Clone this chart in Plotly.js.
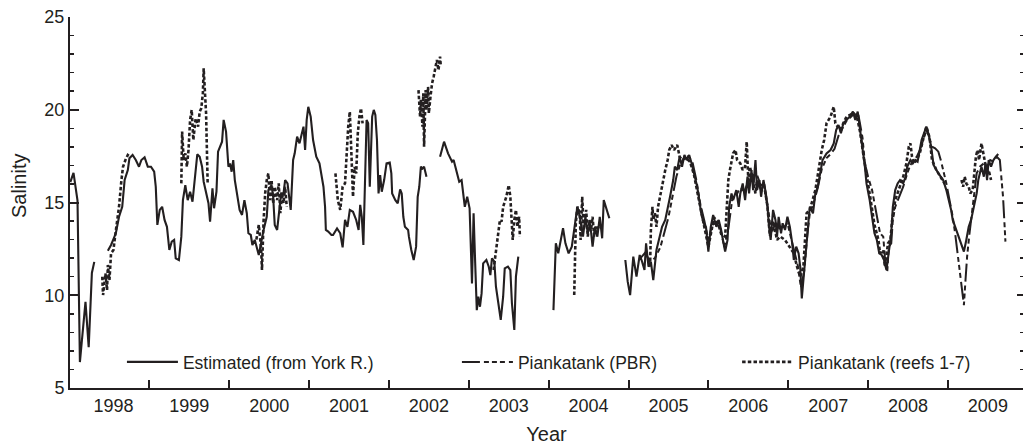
<!DOCTYPE html>
<html>
<head>
<meta charset="utf-8">
<script src="https://cdn.plot.ly/plotly-3.0.1.min.js"></script>
<style>
html,body{margin:0;padding:0;background:#fff;}
#chart{width:1023px;height:446px;}
</style>
</head>
<body>
<div id="chart"></div>
<script>
// ---- Data (decimal year, salinity); null = gap in record ----
var estYears = [
1998.01,1998.05,1998.10,1998.13,1998.20,1998.24,1998.28,1998.31,1998.40,
1998.48,1998.52,1998.58,1998.62,1998.66,1998.69,1998.73,1998.75,1998.79,1998.83,1998.87,1998.90,1998.94,1998.98,
1999.02,1999.06,1999.08,1999.10,1999.13,1999.16,1999.19,1999.22,1999.25,1999.28,1999.31,1999.33,1999.37,1999.40,
1999.42,1999.45,1999.48,1999.51,1999.54,1999.58,1999.60,1999.63,1999.66,1999.68,1999.74,1999.76,1999.79,1999.81,
1999.84,1999.86,1999.91,1999.93,1999.96,1999.99,2000.01,2000.03,2000.05,2000.07,2000.10,2000.13,2000.16,2000.19,
2000.22,2000.24,2000.27,2000.29,2000.32,2000.37,2000.43,2000.47,2000.49,2000.53,2000.55,2000.57,2000.60,2000.63,
2000.65,2000.68,2000.70,2000.73,2000.75,2000.77,2000.80,2000.82,2000.85,2000.88,2000.91,2000.93,2000.95,2000.97,
2000.99,2001.02,2001.05,2001.09,2001.13,2001.16,2001.18,2001.20,2001.21,2001.24,2001.28,2001.30,2001.35,2001.39,
2001.42,2001.45,2001.48,2001.51,2001.55,2001.59,2001.62,2001.64,2001.66,2001.68,2001.70,2001.72,2001.74,2001.76,
2001.79,2001.81,2001.83,2001.85,2001.87,2001.89,2001.91,2001.94,2001.97,2002.01,2002.03,2002.04,2002.08,2002.11,
2002.14,2002.16,2002.18,2002.20,2002.24,2002.25,2002.28,2002.31,2002.34,2002.36,2002.38,2002.40,2002.42,2002.44,
2002.47,2002.55,
2002.64,2002.69,2002.74,2002.79,2002.81,2002.85,2002.88,2002.91,2002.95,2002.98,2003.01,2003.04,2003.06,2003.08,
2003.10,2003.12,2003.14,2003.16,2003.18,2003.22,2003.25,2003.27,2003.29,2003.32,2003.34,2003.37,2003.40,2003.43,
2003.45,2003.49,2003.52,2003.54,2003.57,2003.59,2003.62,2003.85,
2004.06,2004.09,2004.12,2004.18,2004.21,2004.25,2004.29,2004.33,2004.36,2004.39,2004.43,2004.46,2004.49,2004.52,
2004.55,2004.58,2004.61,2004.64,2004.67,2004.69,2004.73,2004.76,2004.86,
2004.96,2004.99,2005.02,2005.06,2005.10,2005.14,2005.17,2005.20,2005.22,2005.25,2005.28,2005.31,2005.35,2005.39,
2005.42,2005.46,2005.49,2005.52,2005.56,2005.58,2005.61,2005.64,2005.67,2005.70,2005.73,2005.76,2005.79,2005.82,
2005.86,2005.88,2005.91,2005.94,2005.97,2006.00,2006.03,2006.06,2006.10,2006.13,2006.16,2006.19,2006.21,2006.24,
2006.26,2006.29,2006.31,2006.35,2006.38,2006.40,2006.43,2006.46,2006.49,2006.51,2006.54,2006.56,2006.59,2006.61,
2006.64,2006.66,2006.69,2006.72,2006.74,2006.76,2006.78,2006.81,2006.84,2006.86,2006.88,2006.91,2006.93,2006.96,
2006.99,2007.02,2007.05,2007.07,2007.10,2007.13,2007.15,2007.17,2007.19,2007.22,2007.25,2007.27,2007.31,2007.34,
2007.37,2007.40,2007.43,2007.48,2007.53,2007.57,2007.60,2007.63,2007.66,2007.69,2007.73,2007.77,2007.81,2007.84,
2007.87,2007.90,2007.93,2007.96,2007.98,2008.02,2008.05,2008.08,2008.11,2008.14,2008.17,2008.20,2008.23,2008.26,
2008.29,2008.31,2008.34,2008.37,2008.40,2008.44,2008.47,2008.49,2008.53,2008.56,2008.59,2008.62,2008.64,2008.67,
2008.70,2008.73,2008.76,2008.79,2008.82,2008.85,2008.88,2008.91,2008.94,2008.98,2009.01,2009.04,2009.06,2009.09,
2009.12,2009.15,2009.18,2009.20,2009.23,2009.26,2009.29,2009.31,2009.34,2009.36,2009.38,2009.40,2009.42,2009.45,
2009.47,2009.49,2009.51,2009.54,2009.57,2009.60,2009.63
];
var estSalinity = [
16.1,16.6,15.1,6.4,9.65,7.2,11.2,11.8,null,
12.4,12.71,13.34,14.23,14.77,16.21,16.75,17.38,17.56,17.29,16.93,17.29,17.44,16.93,
16.93,16.66,15.85,13.79,14.6,14.77,14.06,13.69,12.44,12.89,12.98,11.99,11.9,13.16,
15.13,15.93,15.13,15.58,15.04,16.75,17.6,17.47,16.93,16.12,14.96,13.97,15.76,14.69,
15.58,17.74,18.28,19.45,18.82,16.93,17.11,16.66,17.29,16.21,15.49,14.6,14.33,15.13,
14.42,13.34,13.25,12.71,12.98,12.17,13.52,14.23,15.67,15.94,15.31,13.79,13.52,14.96,
15.49,15.49,16.21,16.03,15.31,14.6,17.29,17.65,18.55,18.19,18.73,19.09,17.83,19.45,
20.16,19.63,18.37,17.47,17.11,16.39,15.85,14.77,13.52,13.43,13.25,13.25,13.6,13.34,
12.58,14.06,13.69,14.6,14.5,14.06,13.52,14.87,14.23,12.71,15.49,19.45,19.27,15.85,
19.63,19.99,19.72,18.37,15.49,16.48,15.58,16.21,17.11,17.15,16.57,15.49,15.13,14.96,
15.71,15.49,14.23,13.69,13.52,13.16,12.44,11.9,12.62,15.31,15.85,16.93,16.84,16.93,
16.39,null,
17.47,18.28,17.65,17.2,17.29,16.57,16.12,16.21,14.77,15.31,14.69,10.64,14.42,11.72,
9.2,9.92,9.38,10.1,11.72,11.9,11.54,11.09,11.99,11.81,10.46,9.57,8.67,9.92,
11.45,11.54,11.36,9.57,8.13,11.0,12.08,null,
9.2,12.8,12.26,13.61,12.8,12.26,12.62,13.88,14.77,14.23,13.16,14.23,13.34,13.88,
12.62,13.69,13.16,14.23,13.07,15.13,14.6,14.15,null,
11.9,10.73,10.01,12.08,11.0,12.17,11.81,11.36,12.8,11.54,11.81,10.82,12.44,13.16,
13.69,14.06,14.6,15.31,16.21,16.93,16.75,17.47,16.93,17.56,17.29,17.56,17.11,16.57,
15.85,15.31,14.42,13.88,13.69,12.35,13.69,14.33,13.69,14.06,13.52,12.8,12.35,12.98,
14.77,15.49,15.13,15.67,14.77,15.49,16.03,15.13,16.39,15.49,16.75,15.67,17.29,15.67,
16.21,15.31,16.21,15.49,14.77,13.69,12.98,14.6,14.06,13.16,14.23,13.34,13.88,13.52,
14.23,13.69,12.8,11.9,12.62,12.26,11.54,9.83,10.82,12.44,13.88,14.77,14.42,15.49,
15.85,16.57,17.29,17.65,17.83,18.19,18.91,19.18,18.73,19.27,19.45,19.63,19.9,19.45,
19.9,18.91,18.01,16.93,16.03,15.13,14.23,13.34,12.98,12.26,12.17,11.9,11.36,12.26,
13.34,14.77,15.67,16.03,16.21,16.03,16.39,16.93,17.29,17.11,17.29,17.2,17.65,18.37,
18.73,19.09,18.64,18.01,17.02,16.75,16.57,16.39,16.21,15.67,15.13,14.6,14.06,13.69,
13.34,12.98,12.62,12.35,12.98,13.69,14.06,14.42,14.96,15.49,16.21,16.57,16.93,16.39,
17.11,16.21,17.29,16.93,17.29,17.47,17.61
];

var pbrYears = [
2005.15,2005.21,2005.27,2005.33,2005.40,2005.46,2005.50,2005.55,2005.60,2005.65,2005.70,2005.75,2005.80,2005.85,
2005.90,2005.95,2006.00,2006.05,2006.10,2006.15,2006.20,2006.25,2006.30,2006.35,2006.40,2006.45,2006.50,2006.55,
2006.60,2006.65,2006.70,2006.75,2006.79,2006.84,2006.89,2006.94,2006.99,2007.04,2007.09,2007.12,2007.16,2007.20,
2007.24,2007.27,2007.32,2007.37,2007.42,2007.48,2007.53,2007.58,2007.63,2007.68,2007.73,2007.78,2007.83,2007.88,
2007.93,2007.96,2008.00,2008.05,2008.09,2008.12,2008.15,2008.19,2008.21,2008.24,2008.26,2008.29,2008.31,2008.34,
2008.37,2008.40,2008.44,2008.49,2008.53,2008.57,2008.61,2008.65,2008.69,2008.73,2008.76,2008.80,2008.84,2008.88,
2008.91,2008.94,2008.98,2009.02,2009.06,2009.09,2009.12,2009.15,2009.17,2009.20,2009.22,2009.24,2009.27,2009.30,
2009.33,2009.36,2009.40,2009.45,2009.49,2009.53,2009.57,2009.61,2009.65,2009.69,2009.72
];
var pbrSalinity = [
12.0,12.3,11.8,12.0,12.6,13.5,14.2,15.3,16.4,17.1,17.4,17.5,17.2,16.2,
14.9,14.0,13.0,13.8,13.9,13.6,12.6,13.6,15.2,15.4,15.8,15.6,16.1,16.4,
16.6,16.0,15.8,14.6,13.3,13.9,13.6,13.6,13.9,13.0,12.2,11.6,10.4,11.3,
13.3,14.4,15.0,15.8,16.8,17.4,17.6,17.9,18.6,19.0,19.4,19.6,19.8,19.7,
18.5,17.11,16.39,15.67,14.77,14.06,13.34,13.16,12.08,11.27,12.62,12.8,14.06,14.77,
15.13,15.4,15.85,16.57,17.02,17.29,17.47,17.83,18.37,18.91,18.55,18.01,17.92,17.74,
17.29,16.75,16.03,15.13,14.23,13.34,12.26,11.36,10.46,9.47,10.82,12.08,13.34,14.42,
15.67,16.57,16.93,17.11,16.93,17.29,17.2,17.47,17.29,15.31,12.89
];

var reefYears = [
1998.41,1998.42,1998.45,1998.47,1998.48,1998.50,1998.52,1998.55,1998.57,1998.60,1998.62,1998.65,1998.67,1998.70,
1998.73,1998.76,1999.00,
1999.40,1999.41,1999.43,1999.45,1999.47,1999.49,1999.51,1999.53,1999.55,1999.58,1999.61,1999.63,1999.65,1999.67,
1999.68,1999.70,1999.71,1999.73,2000.00,
2000.34,2000.37,2000.40,2000.41,2000.43,2000.45,2000.47,2000.49,2000.51,2000.53,2000.55,2000.57,2000.60,2000.62,
2000.64,2000.66,2000.68,2000.70,2000.72,2001.00,
2001.33,2001.36,2001.39,2001.42,2001.45,2001.47,2001.49,2001.51,2001.53,2001.55,2001.57,2001.59,2001.61,2001.63,
2001.65,2001.67,2002.00,
2002.37,2002.39,2002.40,2002.42,2002.43,2002.44,2002.46,2002.47,2002.49,2002.50,2002.52,2002.54,2002.56,2002.58,
2002.60,2002.62,2002.64,2002.65,2003.00,
2003.31,2003.33,2003.35,2003.37,2003.39,2003.41,2003.43,2003.47,2003.50,2003.52,2003.53,2003.55,2003.57,2003.59,
2003.61,2003.63,2003.64,2004.00,
2004.32,2004.33,2004.34,2004.36,2004.39,2004.40,2004.42,2004.44,2004.47,2004.49,2004.51,2004.53,2004.55,2004.57,
2004.59,2004.61,2004.64,2005.00,
2005.27,2005.28,2005.30,2005.31,2005.33,2005.35,2005.37,2005.40,2005.43,2005.46,2005.49,2005.51,2005.54,2005.57,
2005.61,2005.64,2005.67,2005.72,2005.77,2005.82,2005.86,2005.91,2005.95,2006.00,2006.04,2006.07,2006.12,2006.16,
2006.21,2006.23,2006.25,2006.27,2006.31,2006.34,2006.36,2006.40,2006.43,2006.46,2006.48,2006.50,2006.52,2006.56,
2006.59,2006.61,2006.65,2006.70,2006.74,2006.77,2006.81,2006.86,2006.90,2006.96,2007.02,2007.07,2007.11,2007.15,
2007.19,2007.23,2007.27,2007.34,2007.38,2007.42,2007.45,2007.48,2007.53,2007.57,2007.59,2007.65,2007.73,2007.82,
2007.86,2007.90,2007.94,2007.98,2008.03,2008.08,2008.13,2008.15,2008.19,2008.21,2008.25,2008.28,2008.30,2008.34,
2008.40,2008.44,2008.48,2008.51,2008.53,2008.55,2008.57,2008.61,2008.65,2008.70,2008.73,2008.77,2008.80,2008.85,
2008.90,2008.96,2009.05,
2009.17,2009.19,2009.21,2009.23,2009.26,2009.28,2009.31,2009.33,2009.35,2009.37,2009.39,2009.42,2009.45,2009.47,
2009.49,2009.51,2009.54
];
var reefSalinity = [
11.0,10.01,11.18,10.28,11.63,10.82,12.26,12.44,13.16,14.06,14.77,16.21,16.93,17.29,
17.56,17.47,null,
16.03,18.82,17.29,17.65,16.93,17.83,19.45,19.99,18.37,19.54,19.09,19.9,20.08,20.89,
22.23,19.99,19.81,16.0,null,
13.0,13.8,12.5,11.36,14.0,15.49,16.21,16.57,15.13,16.21,14.96,15.85,15.13,16.03,
14.42,15.49,14.96,15.85,14.77,null,
16.57,15.13,14.6,15.85,16.03,17.83,19.09,19.9,17.29,15.31,16.93,16.57,18.73,19.63,
20.08,19.27,null,
21.06,19.63,20.53,19.09,20.89,18.01,21.06,19.99,21.24,19.81,20.71,21.42,21.78,22.32,
22.68,22.14,22.86,22.32,null,
11.36,12.08,12.8,13.52,14.06,13.97,14.77,15.31,15.94,15.31,14.23,12.98,14.06,14.6,
13.69,14.23,13.16,null,
10.01,12.08,13.88,14.77,14.42,12.98,15.31,13.52,14.6,13.16,14.06,13.52,14.23,13.16,
13.69,13.52,13.88,null,
11.54,13.52,14.77,14.06,14.42,13.69,14.77,15.49,16.03,16.75,17.29,17.83,18.1,17.83,
18.1,17.47,17.3,17.4,17.2,16.5,15.6,14.5,13.8,12.6,13.5,14.2,13.9,13.3,
13.16,14.42,16.21,16.75,17.65,17.83,17.29,17.11,16.75,16.93,18.28,16.21,16.93,16.21,
15.49,16.21,15.8,15.9,14.8,13.2,14.0,12.98,13.16,12.98,12.62,12.26,11.54,11.0,
11.54,14.42,14.6,15.67,16.75,17.83,18.37,19.27,19.63,20.16,19.27,18.91,19.63,19.81,
19.63,18.8,17.6,16.6,15.2,13.8,12.98,12.26,12.44,11.54,12.8,12.98,14.0,15.13,
15.85,16.39,17.11,18.01,18.19,17.47,17.11,17.29,17.7,18.6,19.1,18.5,17.3,16.8,
16.4,16.0,null,
16.21,15.85,16.39,16.03,15.85,15.49,15.67,16.75,17.47,17.83,17.29,18.19,17.47,16.93,
16.57,16.75,16.21
];

var seriesNames = ['Estimated (from York R.)', 'Piankatank (PBR)', 'Piankatank (reefs 1-7)'];
var yearBoundaries = [1999,2000,2001,2002,2003,2004,2005,2006,2007,2008,2009];
var yearLabelPos = [1998.55,1999.5,2000.5,2001.5,2002.5,2003.5,2004.5,2005.5,2006.5,2007.5,2008.5,2009.5];
var yearLabels = ['1998','1999','2000','2001','2002','2003','2004','2005','2006','2007','2008','2009'];
var xTitle = 'Year';
var yTitle = 'Salinity';

// ---- Styles ----
var ink = '#231f20';
var font = 'Liberation Sans, Arial, sans-serif';

var traces = [
  {x: estYears, y: estSalinity, name: seriesNames[0], type: 'scatter', mode: 'lines',
   connectgaps: false, line: {color: ink, width: 2.1}, legend: 'legend'},
  {x: pbrYears, y: pbrSalinity, name: seriesNames[1], type: 'scatter', mode: 'lines',
   connectgaps: false, line: {color: ink, width: 2, dash: '18px,4px,5px,3px,5px,3px,5px,4px'}, legend: 'legend2'},
  {x: reefYears, y: reefSalinity, name: seriesNames[2], type: 'scatter', mode: 'lines',
   connectgaps: false, line: {color: ink, width: 2.6, dash: '3.5px,2.2px'}, legend: 'legend3'},
  {x: [], y: [], yaxis: 'y2', showlegend: false, hoverinfo: 'skip', type: 'scatter'}
];

function legendAt(x) {
  return {orientation: 'h', x: x, y: 0.07, xanchor: 'left', yanchor: 'middle',
          bgcolor: 'rgba(0,0,0,0)', borderwidth: 0, itemwidth: 51,
          font: {family: font, size: 17.5, color: ink}};
}

var layout = {
  width: 1023, height: 446,
  margin: {l: 70, r: 0, t: 17, b: 58, pad: 0},
  paper_bgcolor: '#fff', plot_bgcolor: '#fff',
  font: {family: font, color: ink, size: 18},
  showlegend: true,
  legend: legendAt(0.0545),
  legend2: legendAt(0.406),
  legend3: legendAt(0.700),
  xaxis: {
    range: [1998.006, 2009.94], showgrid: false, zeroline: false,
    showline: true, linecolor: ink, linewidth: 2,
    tickmode: 'array', tickvals: yearLabelPos, ticktext: yearLabels,
    ticks: '', tickfont: {family: font, size: 18, color: ink},
    minor: {tickmode: 'array', tickvals: yearBoundaries, ticks: 'inside', ticklen: 8,
            tickwidth: 2, tickcolor: ink, showgrid: false},
    title: {text: xTitle, font: {family: font, size: 20, color: ink}, standoff: 12}
  },
  yaxis: {
    range: [5, 25], showgrid: false, zeroline: false,
    showline: true, linecolor: ink, linewidth: 2,
    tickmode: 'linear', tick0: 5, dtick: 5,
    ticks: 'inside', ticklen: 9, tickwidth: 2, tickcolor: ink,
    tickfont: {family: font, size: 18, color: ink},
    minor: {dtick: 1, ticks: 'inside', ticklen: 4, tickwidth: 1.5, tickcolor: ink, showgrid: false}
  },
  yaxis2: {
    overlaying: 'y', side: 'right', range: [5, 25], showgrid: false, zeroline: false,
    showline: false, showticklabels: false,
    tickmode: 'linear', tick0: 5, dtick: 5,
    ticks: 'inside', ticklen: 6, tickwidth: 2, tickcolor: ink,
    minor: {dtick: 1, ticks: 'inside', ticklen: 3, tickwidth: 1.5, tickcolor: ink, showgrid: false}
  },
  annotations: [
    {text: yTitle, xref: 'paper', yref: 'paper', x: -0.0535, y: 0.5445,
     xanchor: 'center', yanchor: 'middle', textangle: -90, showarrow: false,
     font: {family: font, size: 20, color: ink}}
  ]
};

Plotly.newPlot('chart', traces, layout, {staticPlot: true, displayModeBar: false});
</script>
</body>
</html>
